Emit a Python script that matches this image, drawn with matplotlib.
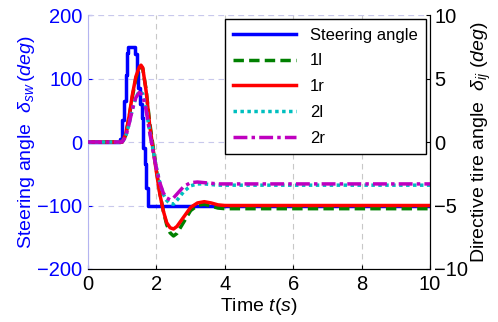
import matplotlib
matplotlib.use('Agg')
import matplotlib.pyplot as plt

plt.rcParams['font.family'] = ['Liberation Sans', 'DejaVu Sans']
plt.rcParams['mathtext.fontset'] = 'custom'
plt.rcParams['mathtext.it'] = 'Liberation Sans:italic'
plt.rcParams['mathtext.rm'] = 'Liberation Sans'

# steering wheel angle (deg), staircase signal
t_sw = [0, 0.95, 1.0, 1.05, 1.1, 1.15, 1.18, 1.33, 1.37, 1.42, 1.47, 1.52, 1.57,
        1.62, 1.67, 1.71, 1.76, 10]
sw = [0, 5, 35, 65, 105, 140, 150, 150, 138, 110, 85, 60, 38, -9, -35, -72, -100, -100]

# tire angles (deg)
t_1 = [0, 1.0, 1.1, 1.2, 1.3, 1.4, 1.5, 1.55, 1.6, 1.7, 1.8, 1.9, 2.0, 2.1, 2.2,
       2.3, 2.4, 2.5, 2.6, 2.8, 3.0, 3.2, 3.4, 3.6, 3.8, 4.0, 10]
d_1r = [0, 0, 0.6, 2.0, 3.75, 5.15, 5.9, 6.05, 5.85, 4.0, 1.4, -0.5, -2.35, -4.1,
        -5.4, -6.35, -6.75, -6.85, -6.65, -5.9, -5.15, -4.8, -4.7, -4.8, -4.95, -5.0, -5.0]
d_1l = [0, 0, 0.5, 1.9, 3.6, 5.0, 5.8, 5.95, 5.8, 4.1, 1.6, -0.3, -2.2, -4.0,
        -5.4, -6.5, -7.15, -7.4, -7.2, -6.3, -5.4, -5.0, -4.9, -5.05, -5.2, -5.25, -5.25]
t_2 = [0, 1.0, 1.1, 1.2, 1.3, 1.4, 1.5, 1.6, 1.7, 1.8, 1.9, 2.0, 2.1, 2.2, 2.3,
       2.4, 2.5, 2.6, 2.8, 3.0, 3.2, 3.4, 3.6, 3.8, 4.0, 10]
d_2l = [0, 0, 0.4, 1.4, 2.6, 3.5, 4.0, 3.8, 2.6, 0.9, -0.6, -2.0, -3.2, -4.1, -4.6,
        -4.85, -4.9, -4.6, -3.9, -3.45, -3.3, -3.3, -3.35, -3.4, -3.4, -3.4]
d_2r = [0, 0, 0.4, 1.4, 2.6, 3.5, 3.9, 3.7, 2.5, 0.8, -0.7, -2.1, -3.2, -4.0, -4.4,
        -4.55, -4.4, -4.1, -3.5, -3.2, -3.15, -3.2, -3.25, -3.3, -3.3, -3.3]

fig = plt.figure(figsize=(4.98, 3.22), dpi=100)
ax = fig.add_axes([0.1767, 0.1646, 0.6868, 0.7888])
ax2 = ax.twinx()

l0, = ax.plot(t_sw, sw, color='#0000ff', lw=2.5, drawstyle='steps-post', label='Steering angle')
l1, = ax2.plot(t_1, d_1l, color='#008000', lw=2.5, ls=(0, (3, 1.5)), label='1l')
l2, = ax2.plot(t_1, d_1r, color='#ff0000', lw=2.5, label='1r')
l3, = ax2.plot(t_2, d_2l, color='#00bfbf', lw=2.5, ls=(0, (1, 1)), label='2l')
l4, = ax2.plot(t_2, d_2r, color='#bf00bf', lw=2.5, ls=(0, (4, 1.2, 1, 1.2)), label='2r')

ax.set_xlim(0, 10)
ax.set_ylim(-200, 200)
ax2.set_ylim(-10, 10)
ax.set_xticks([0, 2, 4, 6, 8, 10])
ax.set_yticks([-200, -100, 0, 100, 200])
ax2.set_yticks([-10, -5, 0, 5, 10])

ax.xaxis.grid(True, ls=(0, (5, 4)), color='#c8c8c8', lw=0.8)
ax.yaxis.grid(True, ls=(0, (5, 4)), color='#c8c8ec', lw=0.8)

ax.tick_params(axis='x', direction='in', labelsize=14.5, length=3, pad=4)
ax.tick_params(axis='y', direction='in', labelsize=14.5, length=3, colors='#0000ff', pad=4)
ax2.tick_params(axis='y', direction='in', labelsize=14.5, length=3, pad=3)

ax.spines['left'].set_color('#b4b4f0')
ax.spines['top'].set_visible(False)
ax2.spines['left'].set_visible(False)
ax2.spines['top'].set_visible(False)
ax.axhline(200, color='#c8c8ec', ls=(0, (5, 4)), lw=0.8)

ax.set_ylabel(r'Steering angle  $\delta_{sw}\,(deg)$', color='#0000ff', fontsize=14, labelpad=0)
ax2.set_ylabel(r'Directive tire angle  $\delta_{ij}\ (deg)$', fontsize=14, labelpad=1)
ax.set_xlabel(r'Time $\mathit{t(s)}$', fontsize=14, labelpad=2)

ax2.legend(handles=[l0, l1, l2, l3, l4], loc='upper right', fontsize=12,
           fancybox=False, edgecolor='black', framealpha=1, handlelength=3.8,
           borderaxespad=0.25, labelspacing=0.65, borderpad=0.5)

fig.savefig('out.png', dpi=100)
plt.close()
